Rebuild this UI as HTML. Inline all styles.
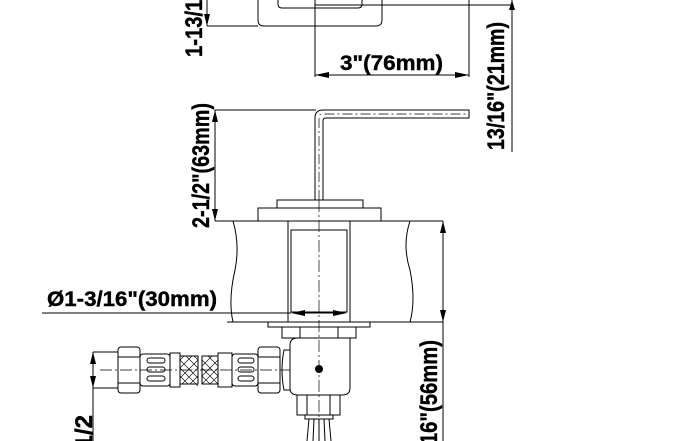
<!DOCTYPE html>
<html><head><meta charset="utf-8"><style>
html,body{margin:0;padding:0;background:#fff;width:700px;height:441px;overflow:hidden;}
svg{display:block;}
text{font-family:"Liberation Sans",sans-serif;font-weight:bold;font-size:21px;fill:#000;stroke:#000;stroke-width:0.4;}
.r{font-size:24px;}
</style></head><body>
<svg width="700" height="441" viewBox="0 0 700 441" xmlns="http://www.w3.org/2000/svg" overflow="hidden">
<g fill="none" stroke="#000" stroke-width="1">
<path d="M258 0 V20 Q258 26 264 26 H376 Q382 26 382 20 V0"/>
<path d="M278 0 V4 Q278 8 282 8 H358 Q362 8 362 4 V0"/>
<line x1="207" y1="0" x2="207" y2="26"/>
<line x1="207" y1="26" x2="258" y2="26"/>
<line x1="315" y1="0" x2="315" y2="77"/>
<line x1="469" y1="0" x2="469" y2="77"/>
<line x1="315" y1="75" x2="469" y2="75"/>
<line x1="315" y1="5" x2="512" y2="5"/>
<line x1="512" y1="0" x2="512" y2="152"/>
<path d="M315 200 V118 Q315 110 323 110 H469 V118 H326 Q323 118 323 121 V200"/>
<path d="M319 200 V117 Q319 114 323 114 H469" stroke-dasharray="10 3 2 3" stroke-width="0.7"/>
<line x1="215" y1="110" x2="316" y2="110"/>
<line x1="215" y1="110" x2="215" y2="221"/>
<rect x="277" y="200" width="86" height="8"/>
<rect x="258" y="208" width="123" height="13"/>
<line x1="215" y1="221" x2="443" y2="221"/>
<line x1="227" y1="322" x2="443" y2="322"/>
<path d="M233 221 Q240 245 235 270 Q228 300 233 322"/>
<path d="M410 221 Q402 245 410 270 Q416 300 410 322"/>
<line x1="443" y1="221" x2="443" y2="441"/>
<rect x="288" y="221" width="62" height="101"/>
<rect x="291" y="230" width="56" height="82"/>
<line x1="319" y1="200" x2="319" y2="441" stroke-dasharray="12 3 2 3" stroke-width="0.7"/>
<line x1="42" y1="313" x2="291" y2="313"/>
<line x1="305" y1="313" x2="334" y2="313"/>
<rect x="268" y="322" width="102" height="5"/>
<rect x="282" y="327" width="74" height="11"/>
<line x1="300" y1="327" x2="300" y2="338"/><line x1="338" y1="327" x2="338" y2="338"/>
<path d="M290 345 Q290 338 298 338 H350 V388 Q350 395 342 395 H298 Q290 395 290 388 Z"/>
<path d="M290 350 H284 Q280 370 284 390 H290"/>
<rect x="118" y="347" width="22" height="46" rx="3"/>
<line x1="118" y1="357" x2="140" y2="357"/><line x1="118" y1="383" x2="140" y2="383"/>
<rect x="258" y="347" width="22" height="46" rx="3"/>
<line x1="258" y1="357" x2="280" y2="357"/><line x1="258" y1="383" x2="280" y2="383"/>
<rect x="140" y="354" width="30" height="32" rx="3"/>
<rect x="232" y="354" width="26" height="32" rx="3"/>
<rect x="170" y="353" width="10" height="34"/>
<rect x="218" y="353" width="14" height="34"/>
<rect x="180" y="356" width="18" height="28"/>
<rect x="202" y="356" width="16" height="28"/>
<path d="M180 360 L198 378 M180 368 L198 386 M180 376 L188 384 M186 356 L198 368 M194 356 L198 360 M198 360 L180 378 M198 368 L182 384 M198 376 L190 384 M192 356 L180 368 M184 356 L180 360" stroke-width="0.6"/>
<path d="M202 360 L218 376 M202 368 L218 384 M202 376 L210 384 M208 356 L218 366 M218 360 L202 376 M218 368 L202 384 M218 376 L210 384 M212 356 L202 366" stroke-width="0.6"/>
<rect x="147" y="358" width="18" height="5" rx="2.5"/><rect x="147" y="367" width="18" height="5" rx="2.5"/><rect x="147" y="376" width="18" height="5" rx="2.5"/>
<rect x="238" y="358" width="16" height="5" rx="2.5"/><rect x="238" y="367" width="16" height="5" rx="2.5"/><rect x="238" y="376" width="16" height="5" rx="2.5"/>
<line x1="100" y1="370" x2="290" y2="370" stroke-dasharray="12 3 2 3" stroke-width="0.7"/>
<line x1="93" y1="352" x2="118" y2="352"/><line x1="93" y1="388" x2="118" y2="388"/>
<line x1="93" y1="352" x2="93" y2="441"/>
<rect x="297" y="395" width="43" height="20"/>
<line x1="307" y1="395" x2="307" y2="415"/><line x1="330" y1="395" x2="330" y2="415"/>
<rect x="305" y="415" width="28" height="4"/>
<path d="M309 419 L307 441 M314 419 L313 441 M319 419 L319 441 M324 419 L325 441 M329 419 L331 441"/>
</g>
<g fill="#000">
<circle cx="319" cy="369" r="4"/>
<polygon points="207,26 204,14 210,14"/>
<polygon points="315,75 329,72 329,78"/><polygon points="469,75 455,72 455,78"/>
<polygon points="512,0 509,10 515,10"/>
<polygon points="215,110 212,122 218,122"/><polygon points="215,221 212,209 218,209"/>
<polygon points="443,221 440,233 446,233"/><polygon points="443,322 440,310 446,310"/>
<polygon points="291,313 305,310 305,316"/><polygon points="347,313 333,310 333,316"/>
<polygon points="93,352 90,364 96,364"/><polygon points="93,388 90,376 96,376"/>
</g>
<text x="340" y="70" textLength="103" lengthAdjust="spacingAndGlyphs">3"(76mm)</text>
<text x="47" y="306" textLength="170" lengthAdjust="spacingAndGlyphs">Ø1-3/16"(30mm)</text>
<text class="r" transform="translate(202,57) rotate(-90)" textLength="150" lengthAdjust="spacingAndGlyphs">1-13/16"(46mm)</text>
<text class="r" transform="translate(504,150) rotate(-90)" textLength="128" lengthAdjust="spacingAndGlyphs">13/16"(21mm)</text>
<text class="r" transform="translate(209,228) rotate(-90)" textLength="125" lengthAdjust="spacingAndGlyphs">2-1/2"(63mm)</text>
<text class="r" transform="translate(437,479) rotate(-90)" textLength="139" lengthAdjust="spacingAndGlyphs">2-3/16"(56mm)</text>
<text class="r" transform="translate(92,415) rotate(-90)" text-anchor="end">G1/2</text>
</svg>
</body></html>
